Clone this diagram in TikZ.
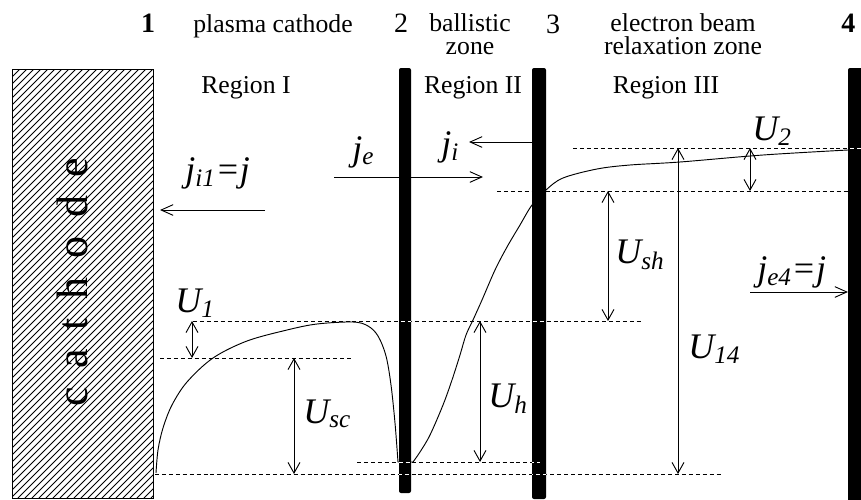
\documentclass[tikz,border=0pt]{standalone}
\usepackage{fontspec}
\setmainfont{Liberation Serif}
\usetikzlibrary{arrows.meta}

\begin{document}
\begin{tikzpicture}[x=0.75pt,y=-0.75pt,
	lvl/.style={dash pattern=on 3pt off 2.2pt,line width=0.6pt},
	wall/.style={fill=black,rounded corners=1.5pt},
	hatch/.style={line width=0.55pt},
	prof/.style={line width=0.7pt},
	cur/.style={-{Straight Barb[length=9pt,width=8pt]},line width=0.7pt},
	dim/.style={{Straight Barb[length=8pt,width=9pt]}-{Straight Barb[length=8pt,width=9pt]},line width=0.7pt},
	head/.style={font=\fontsize{19.3}{17.25}\selectfont,anchor=base,inner sep=0pt},
	twoline/.style={head,align=center,anchor=north},
	num/.style={font=\fontsize{21}{25}\selectfont,anchor=base,inner sep=0pt},
	sym/.style={font=\fontsize{27}{30}\selectfont\itshape,anchor=base west,inner sep=0pt}]
	\useasboundingbox (0,0) rectangle (861,500);

	\begin{scope}
		\clip (12,69) rectangle (153,498);
		\foreach \x in {-430,-423,...,160}
			\draw[hatch] (\x,498) -- ++(430,-430);
	\end{scope}
	\draw[line width=0.7pt] (12,69) rectangle (153,498);
	\node[rotate=90,anchor=base,inner sep=0pt,font=\fontsize{33}{36}\selectfont] (cath) at (87,282)
		{c\hspace{14pt}a\hspace{14pt}t\hspace{14pt}h\hspace{14pt}o\hspace{14pt}d\hspace{14pt}e};

	\foreach \y/\a/\b in {148/573/861,191/497/861,321/193/643,358/160/352,462/357/540,474/155/723}
		\draw[lvl] (\a,\y) -- (\b,\y);

	\draw[prof] plot[smooth,tension=0.55] coordinates {(156,473) (158,450) (163,428) (172,405) (187,382)
		(213,358) (247,341) (287,330) (317,324) (353,322) (368,326) (378,336) (386,356) (391,385)
		(395,423) (398,462)} -- (413,462);
	\draw[prof] plot[smooth,tension=0.55] coordinates {(413,462) (420,452) (430,435) (443,405)
		(452,380) (460,355) (466,335) (473,320) (482,300) (495,270) (507,247) (520,225) (532,205)
		(546,190) (563,178) (597,169) (630,165) (680,162) (763,155) (848,150)};

	\coordinate (je_s) at (334,177);
	\coordinate (je_e) at (483,177);
	\coordinate (ji_s) at (532,142);
	\coordinate (ji_e) at (469,142);
	\coordinate (ji1_s) at (265,210);
	\coordinate (ji1_e) at (160,210);
	\coordinate (je4_s) at (750,292);
	\coordinate (je4_e) at (848,292);
	\foreach \a/\b in {je_s/je_e,ji_s/ji_e,ji1_s/ji1_e,je4_s/je4_e}
		\draw[cur] (\a) -- (\b);

	\foreach \n/\x/\ya/\yb in {U1/192/321/358,Usc/294/358/474,Uh/480/321/462,Ush/608/191/321,U14/678/148/474,U2/750/148/191}{
		\coordinate (\n_t) at (\x,\ya);
		\coordinate (\n_b) at (\x,\yb);
		\draw[dim] (\n_t) -- (\n_b);
	}

	\fill[wall] (399,68) rectangle (411,493);
	\fill[wall] (532,68) rectangle (546,499);
	\fill[wall] (848,68) rectangle (864,503);
	\begin{scope}
		\clip (399,68) rectangle (411,493) (532,68) rectangle (546,499) (848,68) rectangle (864,503);
		\foreach \y/\a/\b in {148/573/861,321/193/643,462/357/540,474/155/723}
			\draw[lvl,white] (\a,\y) -- (\b,\y);
	\end{scope}

	\node[num,font=\fontsize{21}{25}\selectfont\bfseries] (num1) at (148,32) {1};
	\node[head] (plasma) at (273,32) {plasma cathode};
	\node[num] (num2) at (401,32) {2};
	\node[twoline] (bal) at (470,13) {ballistic\\zone};
	\node[num] (num3) at (553,33) {3};
	\node[twoline] (relax) at (683,13) {electron beam\\relaxation zone};
	\node[num,anchor=base west,font=\fontsize{21}{25}\selectfont\bfseries] (num4) at (841,32) {4};

	\node[head] (reg1) at (246,93) {Region I};
	\node[head] (reg2) at (473,93) {Region II};
	\node[head] (reg3) at (666,93) {Region III};

	\node[sym] (je) at (352,160) {j\textsubscript{e}};
	\node[sym] (ji) at (441,155) {j\textsubscript{i}};
	\node[sym] (ji1) at (185,181) {j\textsubscript{i1}=j};
	\node[sym] (je4) at (757,280) {j\textsubscript{e4}=j};
	\node[sym] (U1) at (175,312) {U\textsubscript{1}};
	\node[sym] (Usc) at (303,423) {U\textsubscript{sc}};
	\node[sym] (Uh) at (488,407) {U\textsubscript{h}};
	\node[sym] (Ush) at (615,263) {U\textsubscript{sh}};
	\node[sym] (U14) at (688,358) {U\textsubscript{14}};
	\node[sym] (U2) at (752,140) {U\textsubscript{2}};
\end{tikzpicture}
\end{document}
